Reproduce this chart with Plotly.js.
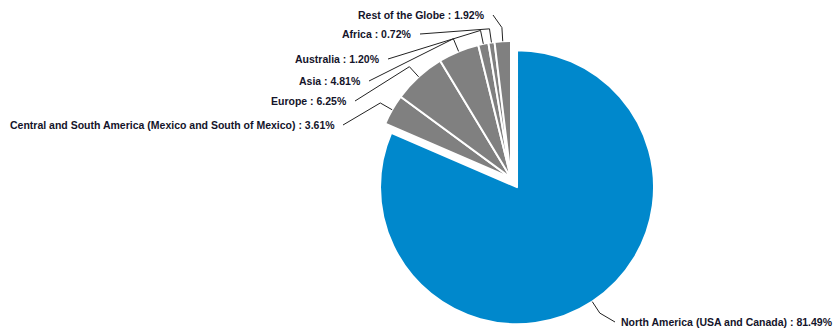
<!DOCTYPE html>
<html>
<head>
<meta charset="utf-8">
<script src="https://cdn.plot.ly/plotly-3.0.1.min.js"></script>
<style>html,body{margin:0;padding:0;background:#fff;}#chart{width:833px;height:331px;}</style>
</head>
<body>
<div id="chart"></div>
<script>
// ---- data ----
const regions = [
  "North America (USA and Canada)",
  "Central and South America (Mexico and South of Mexico)",
  "Europe",
  "Asia",
  "Australia",
  "Africa",
  "Rest of the Globe"
];
const shares = [81.49, 3.61, 6.25, 4.81, 1.20, 0.72, 1.92];
const shareLabels = ["81.49%", "3.61%", "6.25%", "4.81%", "1.20%", "0.72%", "1.92%"];

// ---- layout / style ----
const W = 833, H = 331;
const blue = "#0088cc", grey = "#808080";
const colors = shares.map((v, i) => i === 0 ? blue : grey);
const pulls = shares.map((v, i) => i === 0 ? 0.08 : 0);
const cx = 511, cy = 178, R = 137;              // pie centre / radius in px
const maxPull = Math.max(...pulls);
const half = R * (1 + maxPull);
const domX = [(cx - half) / W, (cx + half) / W];
const domY = [1 - (cy + half) / H, 1 - (cy - half) / H];

// label anchors (px): [x, y, anchor]
const labelPos = [
  [619, 322, "left"],
  [337, 125, "right"],
  [349, 101, "right"],
  [363, 81, "right"],
  [382, 59, "right"],
  [414, 34, "right"],
  [487, 15, "right"]
];

const px = x => x / W, py = y => 1 - y / H;

// slice geometry from data
const total = shares.reduce((a, b) => a + b, 0);
let cum = 0;
const annotations = [], shapes = [];
shares.forEach((v, i) => {
  const mid = (cum + v / 2) / total * 2 * Math.PI;  // clockwise from 12 o'clock
  cum += v;
  const dx = Math.sin(mid), dy = -Math.cos(mid);
  const ox = cx + dx * R * pulls[i], oy = cy + dy * R * pulls[i];
  const ex = ox + dx * R, ey = oy + dy * R;
  const kx = ox + dx * R * 1.1, ky = oy + dy * R * 1.1;
  const [lx, ly, anc] = labelPos[i];
  const sx = anc === "right" ? lx + 6 : lx - 4;
  shapes.push({
    type: "path", xref: "paper", yref: "paper",
    path: `M ${px(sx)},${py(ly)} L ${px(kx)},${py(ky)} L ${px(ex)},${py(ey)}`,
    line: {color: "#222", width: 1}
  });
  annotations.push({
    xref: "paper", yref: "paper", x: px(lx), y: py(ly),
    xanchor: anc, yanchor: "middle", showarrow: false,
    text: regions[i] + " : " + shareLabels[i],
    font: {family: "Liberation Sans, Arial, sans-serif", size: 10.5, color: "#14142a", weight: "bold"}
  });
});

const trace = {
  type: "pie",
  labels: regions,
  values: shares,
  sort: false,
  direction: "clockwise",
  rotation: 0,
  pull: pulls,
  textinfo: "none",
  hoverinfo: "label+percent",
  marker: {colors: colors, line: {color: "#ffffff", width: 2}},
  domain: {x: domX, y: domY},
  showlegend: false
};

Plotly.newPlot("chart", [trace], {
  width: W, height: H,
  margin: {l: 0, r: 0, t: 0, b: 0},
  paper_bgcolor: "#ffffff",
  showlegend: false,
  shapes: shapes,
  annotations: annotations
}, {displayModeBar: false, staticPlot: true});
</script>
</body>
</html>
